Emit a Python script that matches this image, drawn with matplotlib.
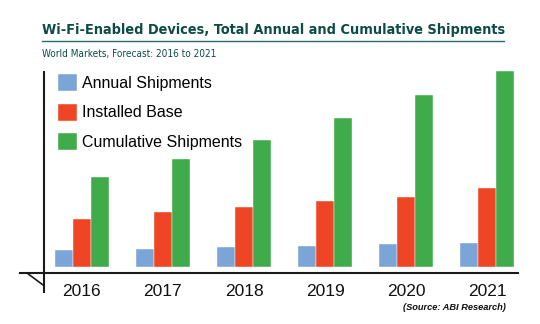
import matplotlib
matplotlib.use("Agg")
import matplotlib.pyplot as plt
import numpy as np
from matplotlib.lines import Line2D
from matplotlib import font_manager as fm

# --- Data (billions of units) ---
years = ["2016", "2017", "2018", "2019", "2020", "2021"]
annual = [3.4, 3.6, 3.9, 4.2, 4.5, 4.8]
installed = [9.5, 10.8, 11.8, 13.0, 13.9, 15.6]
cumulative = [17.7, 21.3, 25.1, 29.3, 33.9, 38.6]
series_names = ["Annual Shipments", "Installed Base", "Cumulative Shipments"]

# --- Style ---
COLORS = ["#7ba4d7", "#ee4625", "#3fab4a"]
TITLE_COLOR = "#0d4b45"
RULE_COLOR = "#2a6d66"
W, H = 540, 324


def narrow_font():
    """Find a narrow/condensed sans if one is installed."""
    names = {f.name for f in fm.fontManager.ttflist}
    if "Liberation Sans Narrow" in names:
        return {"family": "Liberation Sans Narrow"}
    for f in fm.fontManager.ttflist:
        if f.name == "DejaVu Sans" and "Condensed" in f.fname:
            return {"family": "DejaVu Sans", "stretch": "condensed"}
    return {"family": "Liberation Sans"}


NARROW = narrow_font()
ARIAL = {"family": "Liberation Sans"}

fig = plt.figure(figsize=(W / 100, H / 100), dpi=100)

# axes box in pixels: left 20, right 518, top 71, bottom 272.5 (x axis line)
ax = fig.add_axes([20 / W, (H - 272.5) / H, 498 / W, 201.5 / H])

x = np.arange(len(years))
bw = 0.223
for i, vals in enumerate([annual, installed, cumulative]):
    ax.bar(x + (i - 1) * bw, vals, width=bw, color=COLORS[i],
           edgecolor="white", linewidth=0.3, label=series_names[i])

ax.set_xlim(-0.762, 5.379)
ax.set_ylim(-1.02, 38.57)

for s in ["top", "right", "left"]:
    ax.spines[s].set_visible(False)
ax.spines["bottom"].set_linewidth(1.5)
ax.spines["bottom"].set_color("#1a1a1a")
ax.set_yticks([])
ax.set_xticks(x)
ax.set_xticklabels(years, fontsize=12.5, color="#111111", **ARIAL)
ax.tick_params(axis="x", length=0, pad=8)

# y axis line, running a bit below the x axis, and the little diagonal
xt = ax.get_xaxis_transform()
ax.plot([-0.462, -0.462], [-0.1017, 1.0], transform=xt, color="#1a1a1a",
        lw=1.5, clip_on=False, solid_capstyle="butt")
ax.plot([-0.676, -0.478], [-0.0025, -0.062], transform=xt, color="#1a1a1a",
        lw=1.2, clip_on=False)

# legend
leg = ax.legend(loc="upper left", bbox_to_anchor=(58 / W, 1 - 74 / H),
                bbox_transform=fig.transFigure, frameon=False,
                prop=fm.FontProperties(size=11.5, **ARIAL),
                handlelength=1.2, handleheight=1.25, handletextpad=0.3,
                labelspacing=0.8, borderpad=0, borderaxespad=0)

# title block
title = fig.text(42 / W, 1 - 34 / H,
                 "Wi-Fi-Enabled Devices, Total Annual and Cumulative Shipments",
                 fontweight="bold", fontsize=13, color=TITLE_COLOR,
                 va="baseline", ha="left", **NARROW)
rule = Line2D([42 / W, 471 / W], [1 - 40.7 / H, 1 - 40.7 / H],
              color=RULE_COLOR, lw=1.0, transform=fig.transFigure)
fig.add_artist(rule)
sub = fig.text(42 / W, 1 - 56.7 / H, "World Markets, Forecast: 2016 to 2021",
               fontsize=8.5, color=TITLE_COLOR,
               va="baseline", ha="left", **NARROW)

src = fig.text(506 / W, 1 - 307 / H, "(Source: ABI Research)",
               fontweight="bold", fontstyle="italic", fontsize=6.6,
               color="#111111", va="center", ha="right", **ARIAL)

# size the header texts to roughly the widths they have in the original
fig.canvas.draw()
r = fig.canvas.get_renderer()
for t, target in [(title, 462), (sub, 175), (src, 103)]:
    wpx = t.get_window_extent(r).width
    t.set_fontsize(t.get_fontsize() * target / wpx)
rule.set_xdata([42 / W, (42 + 462) / W])

fig.savefig("out.png", dpi=100)
